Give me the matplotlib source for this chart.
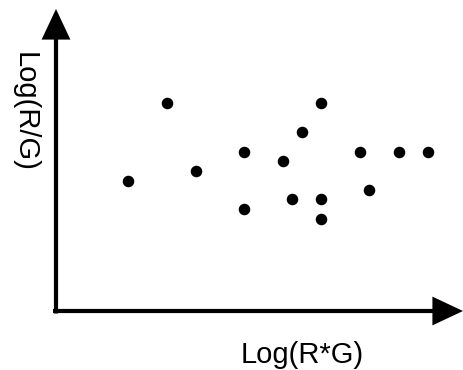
import matplotlib
matplotlib.use('Agg')
import matplotlib.pyplot as plt
from matplotlib.patches import FancyArrowPatch

# data (arbitrary units, origin at the axes corner)
log_rg_prod = [7.2, 11.1, 14.0, 18.8, 18.8, 22.7, 23.6, 24.6, 26.5, 26.5, 26.5, 30.4, 31.3, 34.3, 37.2]
log_rg_ratio = [13.0, 20.8, 14.0, 15.9, 10.2, 15.0, 11.2, 17.9, 20.8, 11.2, 9.2, 15.9, 12.1, 15.9, 15.9]

x_label = "Log(R*G)"
y_label = "Log(R/G)"

plt.rcParams['font.family'] = ['Liberation Sans', 'DejaVu Sans']

fig = plt.figure(figsize=(4.64, 3.70), dpi=100)
ax = fig.add_axes([0, 0, 1, 1])
ax.set_xlim(-5.6, 40.8)
ax.set_ylim(-5.9, 31.1)
ax.axis('off')

# axes with arrow heads
for start, end in [((0, -0.25), (0, 30.2)), ((-0.3, 0), (40.7, 0))]:
    arr = FancyArrowPatch(start, end, arrowstyle='-|>,head_length=17,head_width=8',
                          mutation_scale=1, shrinkA=0, shrinkB=0,
                          color='black', linewidth=3, joinstyle='miter', capstyle='butt')
    ax.add_patch(arr)

ax.plot(log_rg_prod, log_rg_ratio, 'o', color='black', markersize=7.3, zorder=3)

ax.text(24.6, -4.4, x_label, fontsize=21, ha='center', va='center')
ax.text(-3.1, 19.9, y_label, fontsize=21, ha='center', va='center', rotation=-90)

fig.savefig('out.png', dpi=100, facecolor='white')
